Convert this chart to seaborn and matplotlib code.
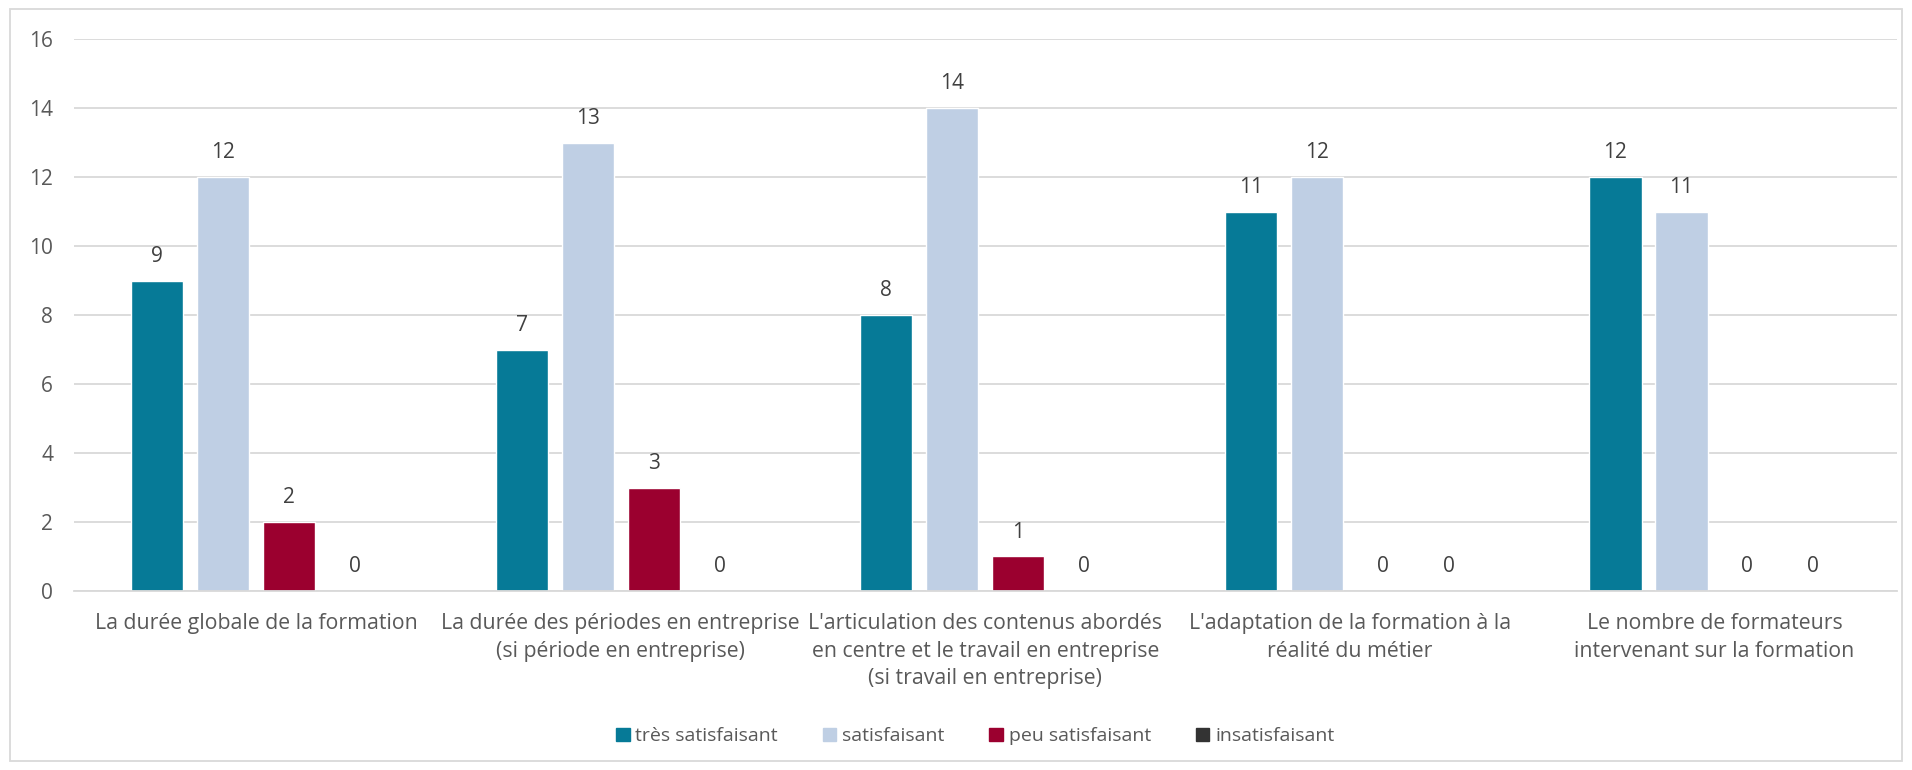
import pandas as pd
import matplotlib.pyplot as plt
import matplotlib.patches as mpatches
import seaborn as sns

# ==================================================
# DATA
# ==================================================
categories = [
    "La durée globale de la formation",
    "La durée des périodes en entreprise\n(si période en entreprise)",
    "L'articulation des contenus abordés\nen centre et le travail en entreprise\n(si travail en entreprise)",
    "L'adaptation de la formation à la\nréalité du métier",
    "Le nombre de formateurs\nintervenant sur la formation",
]
levels = ["très satisfaisant", "satisfaisant", "peu satisfaisant", "insatisfaisant"]
tres_satisfaisant = [9, 7, 8, 11, 12]
satisfaisant = [12, 13, 14, 12, 11]
peu_satisfaisant = [2, 3, 1, 0, 0]
insatisfaisant = [0, 0, 0, 0, 0]
colors = ["#067A97", "#BFCFE4", "#9B002F", "#333333"]
y_ticks = [0, 2, 4, 6, 8, 10, 12, 14, 16]

rows = []
for lvl, vals in zip(levels, [tres_satisfaisant, satisfaisant, peu_satisfaisant, insatisfaisant]):
    for cat, v in zip(categories, vals):
        rows.append({"Critère": cat, "Niveau": lvl, "Nombre": v})
df = pd.DataFrame(rows)

# ==================================================
# PLOT
# ==================================================
sns.set_style("white")
plt.rcParams["font.family"] = ["Open Sans", "DejaVu Sans"]

fig = plt.figure(figsize=(19.12, 7.7), dpi=100)
ax = fig.add_axes([0.0387, 0.2325, 0.9533, 0.7165])

sns.barplot(data=df, x="Critère", y="Nombre", hue="Niveau", order=categories,
            hue_order=levels, palette=colors, width=0.724, gap=0.21,
            saturation=1, legend=False, ax=ax)

for cont in ax.containers:
    ax.bar_label(cont, fmt="%d", padding=10, fontsize=15, color="#404040")

ax.set_ylim(0, 16)
ax.set_yticks(y_ticks)
ax.set_xlim(-0.5, len(categories) - 0.5)
ax.yaxis.grid(True, color="#D9D9D9", linewidth=1.3)
ax.set_axisbelow(True)
for s in ["top", "right", "left"]:
    ax.spines[s].set_visible(False)
ax.spines["bottom"].set_color("#D9D9D9")
ax.spines["bottom"].set_linewidth(1.3)
ax.tick_params(axis="y", length=0, pad=15, labelsize=15, labelcolor="#595959")
ax.tick_params(axis="x", length=0, pad=16, labelsize=15.3, labelcolor="#595959")
for lab in ax.get_xticklabels():
    lab.set_linespacing(1.4)
ax.set_xlabel("")
ax.set_ylabel("")

handles = [mpatches.Patch(color=c, label=l) for c, l in zip(colors, levels)]
fig.legend(handles=handles, loc="center", bbox_to_anchor=(0.51, 0.044), ncol=4,
           frameon=False, fontsize=14, labelcolor="#595959", handlelength=0.7,
           handleheight=0.7, handletextpad=0.3, columnspacing=2.3)

# cadre extérieur
fig.patches.append(mpatches.Rectangle((0.005, 0.012), 0.99, 0.976, transform=fig.transFigure,
                                      fill=False, edgecolor="#D9D9D9", linewidth=1.3))

plt.savefig("out.png", dpi=100)
